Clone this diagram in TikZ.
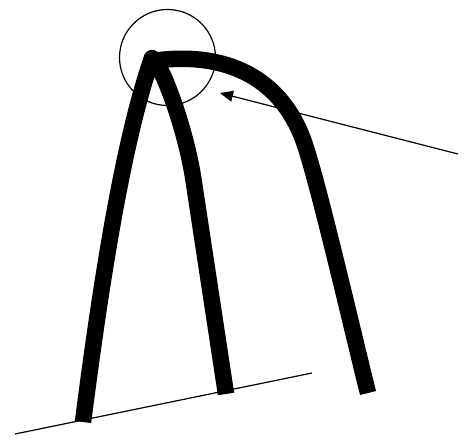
\documentclass[tikz,border=0pt]{standalone}
\usepackage{tikz}
\usetikzlibrary{arrows.meta}

\begin{document}
\begin{tikzpicture}[x=1pt, y=-1pt,
  arch/.style={line width=16.5pt, line join=round},
  fine/.style={line width=1.2pt}]
\useasboundingbox (0,0) rectangle (470,439);
% Points
\coordinate (lfoot) at (83,422);
\coordinate (apex) at (152,58);
\coordinate (mknee) at (193.5,180);
\coordinate (mfoot) at (226,394);
\coordinate (rstart) at (146,62);
\coordinate (rknee) at (305,145);
\coordinate (rfoot) at (368,393);
% Pointed arch
\draw[arch] (lfoot) .. controls (105,250) and (127,130) .. (apex)
  .. controls (162,64) and (186,130) .. (mknee) -- (mfoot);
% Outer curve
\draw[arch] (rstart) .. controls (215,50) and (280,70) .. (rknee)
  .. controls (320,190) and (353,333) .. (rfoot);
% Detail circle
\node[fine, draw, circle, minimum size=96pt, inner sep=0pt] (zone) at (167.5,57.5) {};
% Pointer
\coordinate (tail) at (458,154);
\coordinate (tip) at (220,93);
\draw[fine, -{Triangle[length=13pt, width=11pt]}] (tail) -- (tip);
% Ground
\coordinate (gl) at (15,434);
\coordinate (gr) at (312,373);
\draw[fine] (gl) -- (gr);
\end{tikzpicture}
\end{document}
